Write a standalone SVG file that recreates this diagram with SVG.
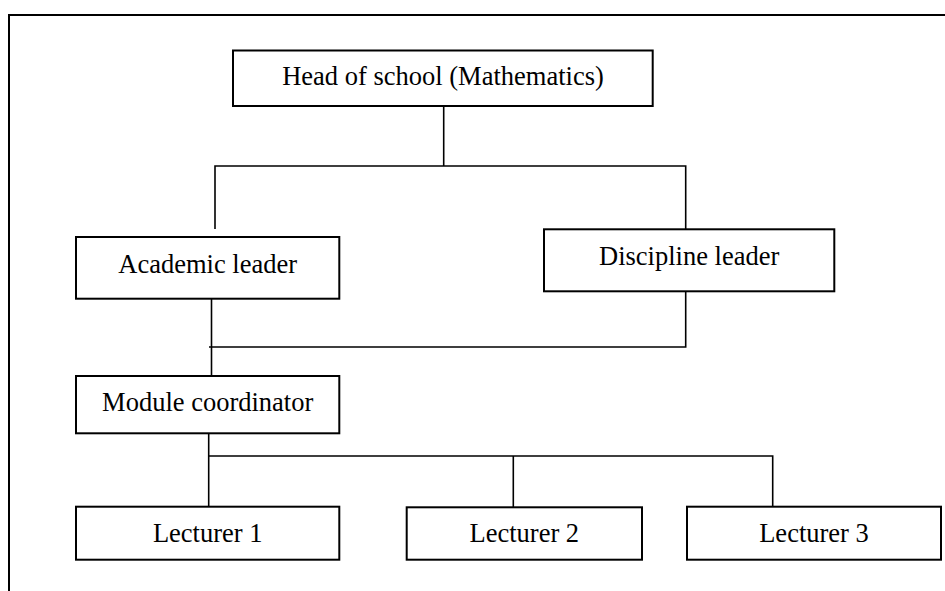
<svg xmlns="http://www.w3.org/2000/svg" width="945" height="591" viewBox="0 0 945 591">
<style>
.box{fill:#fff;stroke:#000;stroke-width:2}
.lbl{font-family:"Liberation Serif","Times New Roman",serif;font-size:26.5px;fill:#000;text-anchor:middle}
.con{fill:none;stroke:#000;stroke-width:1.6}
.frame{fill:none;stroke:#000;stroke-width:2}
</style>
<rect width="945" height="591" fill="#fff"/>
<path class="frame" d="M9,591 V15 H945"/>
<g id="connectors">
<path class="con" d="M443.7,106 V166"/>
<path class="con" d="M215,229 V166 H685.7 V229"/>
<path class="con" d="M685.7,291 V347 H209"/>
<path class="con" d="M211.5,299 V376"/>
<path class="con" d="M208.7,433 V506.7"/>
<path class="con" d="M208.7,456 H772.7 V506.7"/>
<path class="con" d="M513.3,456 V507"/>
</g>
<g id="head">
<rect class="box" x="233" y="50.5" width="419.7" height="55.5"/>
<text class="lbl" x="443" y="85">Head of school (Mathematics)</text>
</g>
<g id="academic">
<rect class="box" x="76" y="237" width="263.3" height="61.7"/>
<text class="lbl" x="207.7" y="272.7">Academic leader</text>
</g>
<g id="discipline">
<rect class="box" x="544" y="229.3" width="290.3" height="62"/>
<text class="lbl" x="689.2" y="265">Discipline leader</text>
</g>
<g id="module">
<rect class="box" x="76" y="376" width="263.3" height="57.3"/>
<text class="lbl" x="207.7" y="411">Module coordinator</text>
</g>
<g id="lecturer1">
<rect class="box" x="76" y="506.7" width="263.3" height="53"/>
<text class="lbl" x="207.7" y="542.3">Lecturer 1</text>
</g>
<g id="lecturer2">
<rect class="box" x="406.7" y="507.3" width="235.3" height="52.4"/>
<text class="lbl" x="524.3" y="542.3">Lecturer 2</text>
</g>
<g id="lecturer3">
<rect class="box" x="687" y="506.7" width="254" height="53"/>
<text class="lbl" x="814" y="542.3">Lecturer 3</text>
</g>
</svg>
